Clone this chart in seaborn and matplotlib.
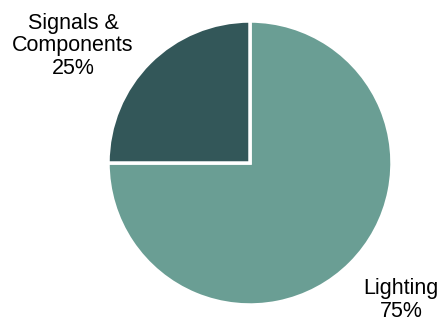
import matplotlib
matplotlib.use("Agg")
import matplotlib.pyplot as plt
import seaborn as sns

categories = ["Lighting", "Signals &\nComponents"]
shares = [75, 25]
colors = ["#6a9e94", "#335759"]

sns.set_theme(style="white")
plt.rcParams['font.family'] = ['Liberation Sans', 'DejaVu Sans']

W, H = 441, 322
fig = plt.figure(figsize=(W / 100, H / 100), dpi=100)
cx, cy, r = 250, 163, 142
ax = fig.add_axes([(cx - r) / W, (H - cy - r) / H, 2 * r / W, 2 * r / H])

ax.pie(shares, colors=colors, startangle=90, counterclock=False,
       wedgeprops={'edgecolor': 'white', 'linewidth': 2.5})
ax.set_xlim(-1, 1)
ax.set_ylim(-1, 1)
ax.set_aspect('equal')
ax.axis('off')

# label positions in pixel coords (x, y from top)
label_pos = [(401, 300), (73, 46)]
for cat, val, (x, y) in zip(categories, shares, label_pos):
    fig.text(x / W, 1 - y / H, f"{cat}\n{val}%", ha='center', va='center',
             fontsize=15.5, color='black', linespacing=1.12)

fig.savefig("out.png", dpi=100)
